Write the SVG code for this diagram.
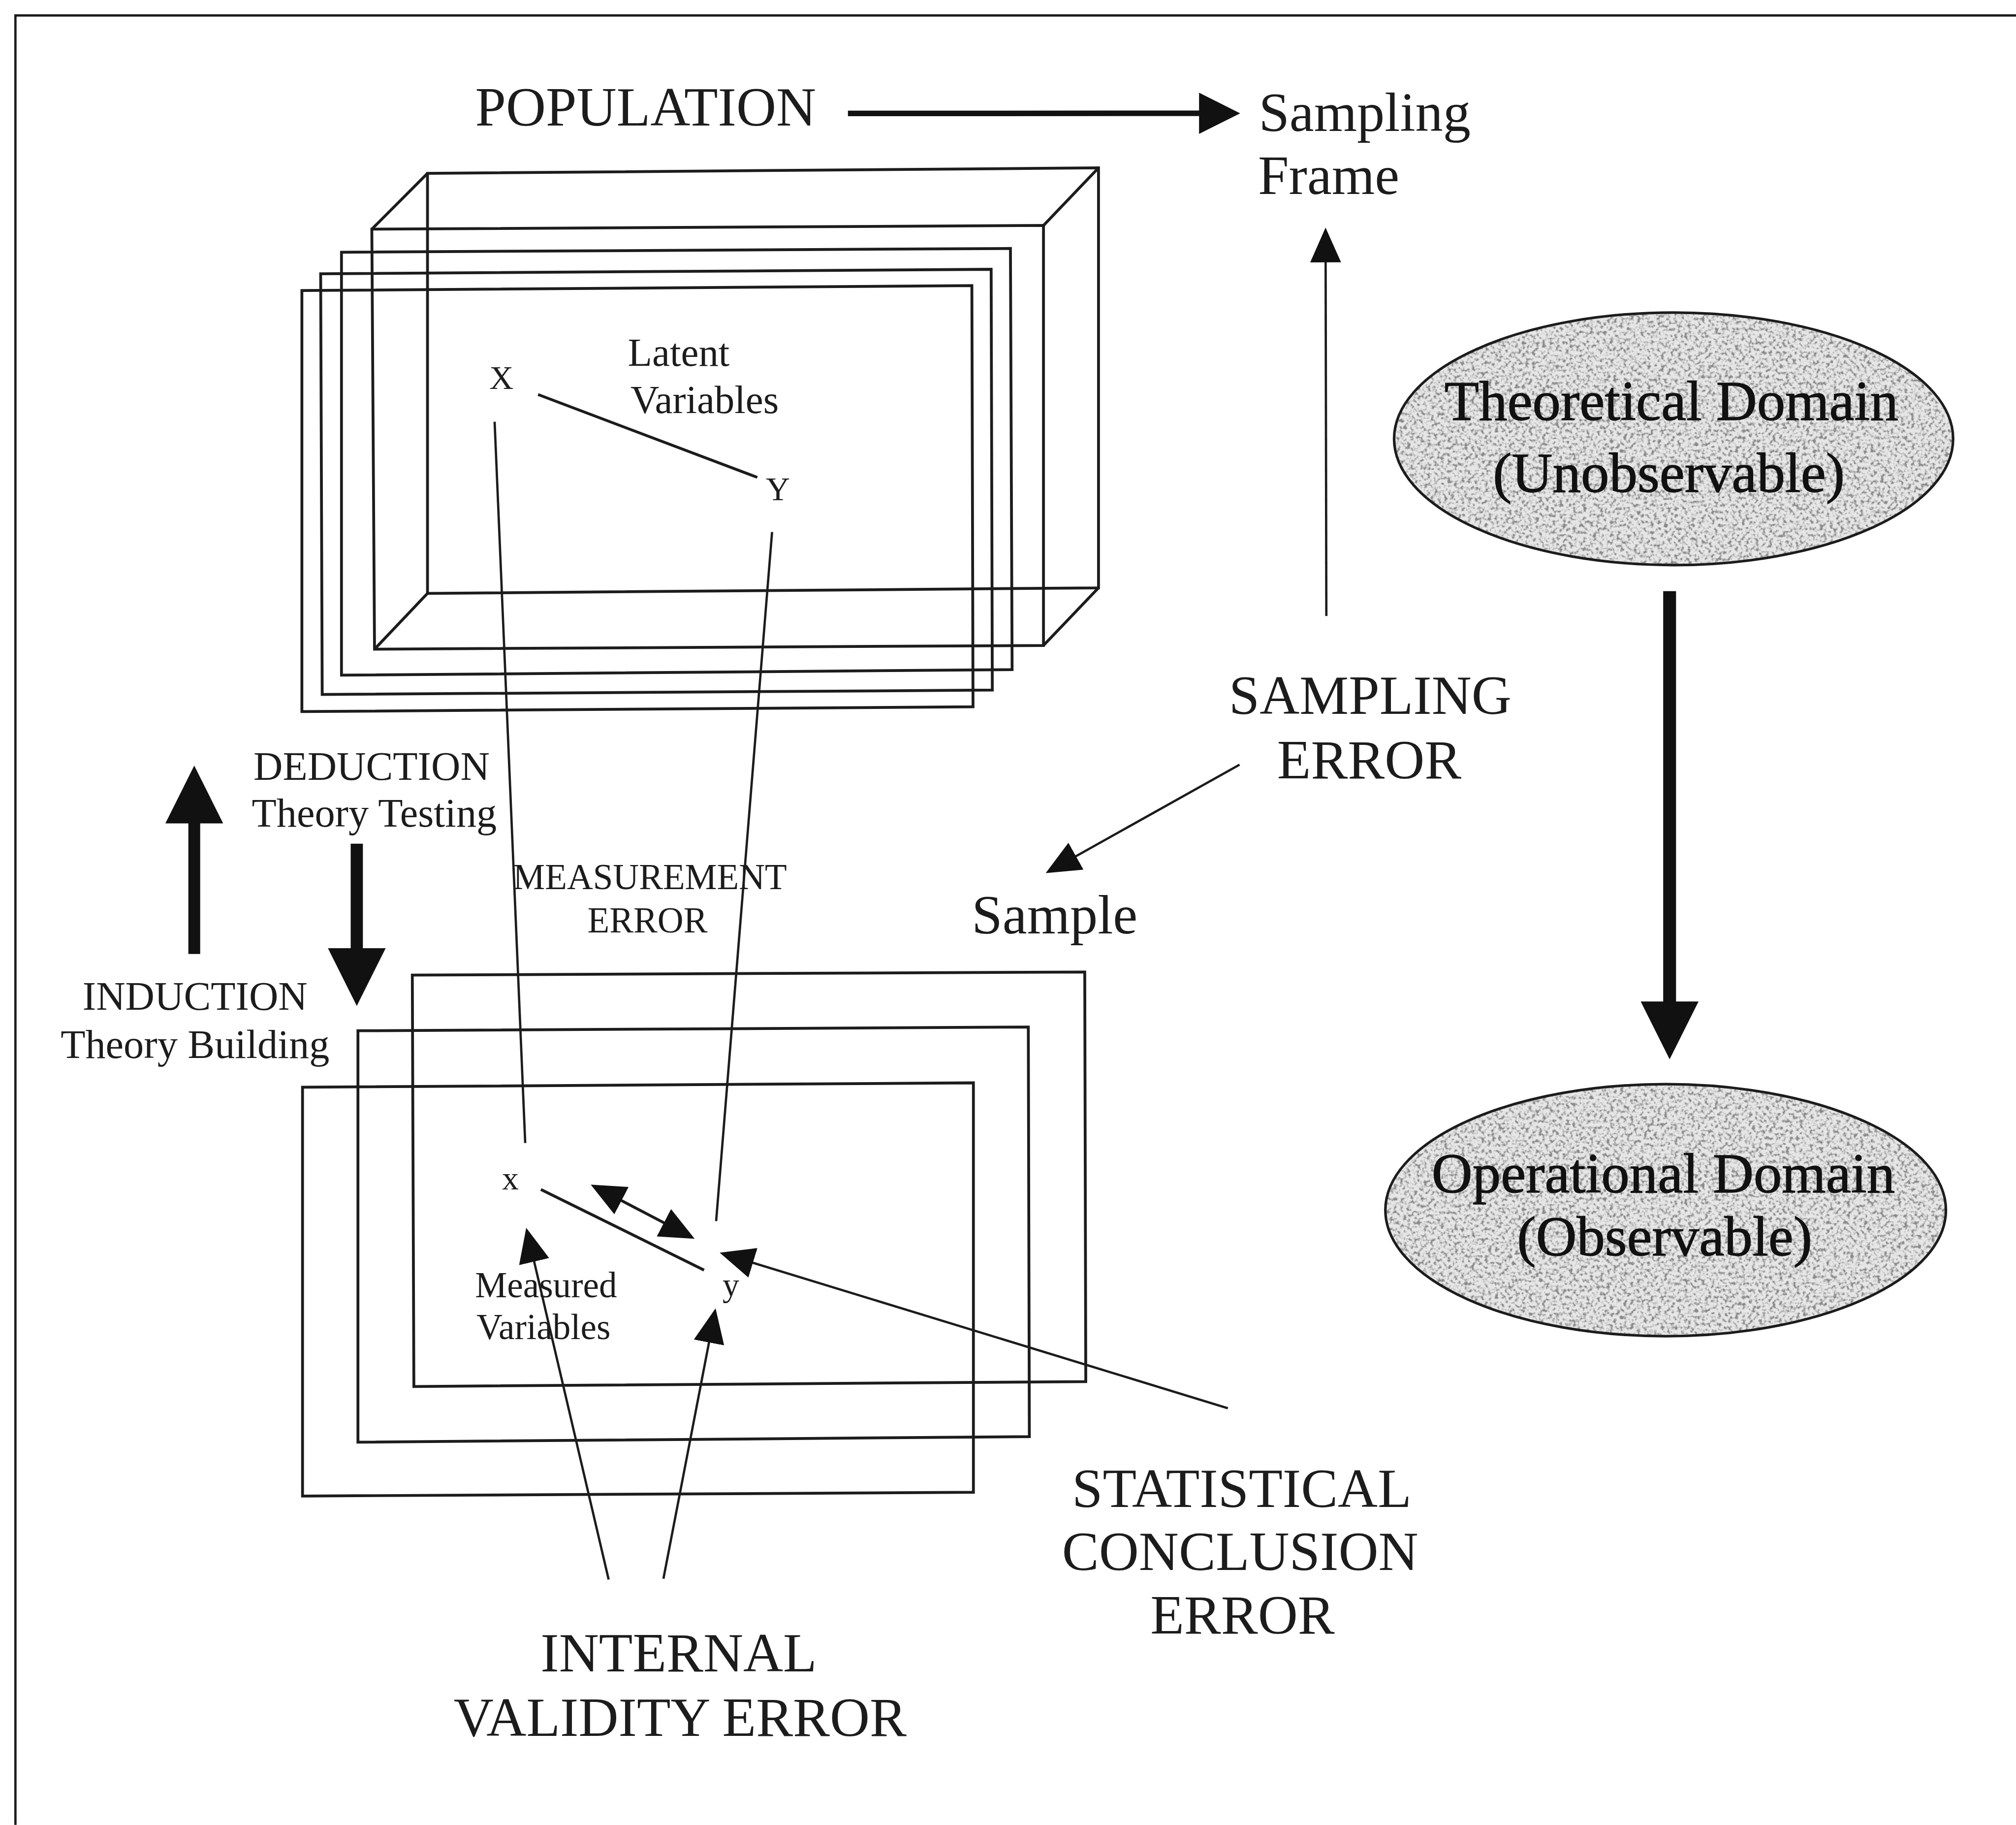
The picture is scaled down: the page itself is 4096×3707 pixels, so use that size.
<svg xmlns="http://www.w3.org/2000/svg" width="4096" height="3707" viewBox="0 0 4096 3707">
  <style>
    .ln { fill: none; stroke: #1c1c1c; stroke-width: 2.2; stroke-linejoin: miter; }
    .th { fill: none; stroke: #1c1c1c; stroke-width: 1.8; }
    .big { fill: none; stroke: #111; }
    .t { font-family: "Liberation Serif", "Times New Roman", serif; fill: #1c1c1c; }
    .dom { font-family: "Liberation Serif", "Times New Roman", serif; fill: #111; stroke: #111; stroke-width: 0.5; }
    .c { text-anchor: middle; }
    .head { fill: #111; }
  </style>
  <defs>
    <!-- thin arrowhead: tip lies 4 units past the line end -->
    <marker id="ah" viewBox="0 0 27 24" refX="23" refY="12" markerWidth="27" markerHeight="24" markerUnits="userSpaceOnUse" orient="auto-start-reverse">
      <path class="head" d="M0,0 L27,12 L0,24 z"/>
    </marker>
    <!-- heavier head for the population arrow -->
    <marker id="ahPop" viewBox="0 0 32 32" refX="26" refY="16" markerWidth="32" markerHeight="32" markerUnits="userSpaceOnUse" orient="auto">
      <path class="head" d="M0,0 L32,16 L0,32 z"/>
    </marker>
    <!-- bold block arrowhead -->
    <marker id="ahBig" viewBox="0 0 45 45" refX="34" refY="22.5" markerWidth="45" markerHeight="45" markerUnits="userSpaceOnUse" orient="auto">
      <path class="head" d="M0,0 L45,22.5 L0,45 z"/>
    </marker>
    <!-- speckled grey fill for the domain ellipses -->
    <filter id="grain" x="-5%" y="-5%" width="110%" height="110%">
      <feTurbulence type="fractalNoise" baseFrequency="0.38" numOctaves="2" seed="7" result="noise"/>
      <feColorMatrix in="noise" type="matrix" values="0 0 0 0 0.25  0 0 0 0 0.25  0 0 0 0 0.25  4 0 0 0 -1.85" result="speck"/>
      <feComposite in="speck" in2="SourceAlpha" operator="in" result="speckIn"/>
      <feMerge><feMergeNode in="SourceGraphic"/><feMergeNode in="speckIn"/></feMerge>
    </filter>
  </defs>

  <rect x="0" y="0" width="4096" height="3707" fill="#ffffff"/>

  <g transform="scale(2.61224)">
    <!-- page frame -->
    <g id="frame">
      <path class="th" d="M12,1419 L12,12 L1568,12" stroke-width="1.6"/>
    </g>

    <!-- population: stacked planes with a 3D box -->
    <g id="population-stack">
      <polygon class="ln" points="332.5,134.8 854.4,130.5 854.4,457.1 332.5,461.4"/>
      <polygon class="ln" points="289.2,178.2 811.6,175.3 811.6,501.9 291.3,504.8"/>
      <path class="ln" d="M289.2,178.2 L332.5,134.8 M811.6,175.3 L854.4,130.5 M291.3,504.8 L332.5,461.4 M811.6,501.9 L854.4,457.1"/>
      <polygon class="ln" points="265.6,196.1 785.9,193.2 787.2,520.7 265.6,525"/>
      <polygon class="ln" points="249.4,212.9 770.9,209.4 771.8,536.6 250.6,540"/>
      <polygon class="ln" points="234.8,225.9 755.9,222.1 756.8,549.6 234.8,553.3"/>
    </g>

    <g id="latent-X"><text class="t c" x="390" y="302.5" font-size="26">X</text></g>
    <g id="latent-Y"><text class="t c" x="605" y="389" font-size="26">Y</text></g>
    <g id="latent-label">
      <text class="t" x="488.3" y="284.5" font-size="31">Latent</text>
      <text class="t" x="490.4" y="321.2" font-size="31">Variables</text>
    </g>

    <!-- sample: stacked planes -->
    <g id="sample-stack">
      <polygon class="ln" points="320.7,758.2 843.7,755.8 844.5,1074.3 321.9,1078.1"/>
      <polygon class="ln" points="278.4,801.5 799.8,798.6 800.6,1117.1 278.4,1121.4"/>
      <polygon class="ln" points="235.3,845.4 757.1,842 757.1,1160.4 235.3,1163.3"/>
    </g>

    <g id="measured-x"><text class="t c" x="397" y="925" font-size="26">x</text></g>
    <g id="measured-y"><text class="t c" x="568.5" y="1008" font-size="26">y</text></g>
    <g id="measured-label">
      <text class="t" x="369.5" y="1008.7" font-size="28">Measured</text>
      <text class="t" x="370.7" y="1041.4" font-size="28">Variables</text>
    </g>

    <g id="population"><text class="t c" x="502.2" y="97.5" font-size="43">POPULATION</text></g>
    <g id="sampling-frame">
      <text class="t" x="979" y="101.8" font-size="43">Sampling</text>
      <text class="t" x="978.5" y="151" font-size="43">Frame</text>
    </g>
    <g id="sampling-error">
      <text class="t c" x="1065.7" y="555" font-size="43">SAMPLING</text>
      <text class="t c" x="1065" y="605.4" font-size="43">ERROR</text>
    </g>
    <g id="sample"><text class="t" x="755.8" y="726" font-size="43">Sample</text></g>

    <g id="deduction">
      <text class="t c" x="289" y="606.3" font-size="31.5">DEDUCTION</text>
      <text class="t c" x="291.1" y="642.9" font-size="31.5">Theory Testing</text>
    </g>
    <g id="induction">
      <text class="t c" x="151.7" y="785.1" font-size="31.5">INDUCTION</text>
      <text class="t c" x="151.7" y="822.7" font-size="31.5">Theory Building</text>
    </g>

    <g id="measurement-error">
      <text class="t c" x="505.5" y="691.5" font-size="28">MEASUREMENT</text>
      <text class="t c" x="503.6" y="725" font-size="28">ERROR</text>
    </g>
    <g id="statistical-conclusion-error">
      <text class="t c" x="965.8" y="1171.9" font-size="43">STATISTICAL</text>
      <text class="t c" x="964.6" y="1220.8" font-size="43">CONCLUSION</text>
      <text class="t c" x="966.4" y="1270.2" font-size="43">ERROR</text>
    </g>
    <g id="internal-validity-error">
      <text class="t c" x="527.9" y="1299.5" font-size="43">INTERNAL</text>
      <text class="t c" x="529" y="1349.7" font-size="43">VALIDITY ERROR</text>
    </g>

    <g id="theoretical-domain">
      <ellipse cx="1301.7" cy="341.2" rx="217.4" ry="98.2" fill="#e6e6e6" filter="url(#grain)"/>
      <ellipse cx="1301.7" cy="341.2" rx="217.4" ry="98.2" fill="none" stroke="#1c1c1c" stroke-width="2"/>
      <text class="dom c" x="1300" y="326.5" font-size="44">Theoretical Domain</text>
      <text class="dom c" x="1298" y="382.5" font-size="44">(Unobservable)</text>
    </g>
    <g id="operational-domain">
      <ellipse cx="1295.5" cy="941" rx="218" ry="98" fill="#e6e6e6" filter="url(#grain)"/>
      <ellipse cx="1295.5" cy="941" rx="218" ry="98" fill="none" stroke="#1c1c1c" stroke-width="2"/>
      <text class="dom c" x="1293.7" y="927" font-size="44">Operational Domain</text>
      <text class="dom c" x="1294.7" y="976" font-size="44">(Observable)</text>
    </g>

    <g id="connectors">
      <!-- latent and measured relations -->
      <path class="ln" d="M418.5,306.8 L589,371.2"/>
      <path class="th" d="M384.7,327.9 L408.5,888.8"/>
      <path class="th" d="M600.5,413.7 L557,949.5"/>
      <path class="ln" d="M420.7,924.9 L547.6,987.6"/>
      <path class="ln" d="M463,922.95 L536.75,961.45" marker-start="url(#ah)" marker-end="url(#ah)"/>

      <!-- population to sampling frame -->
      <path fill="none" stroke="#111" stroke-width="4.3" d="M659.5,88.2 L958.6,88.1" marker-end="url(#ahPop)"/>
      <!-- sampling error arrows -->
      <path class="th" d="M1031.6,479 L1031,181" marker-end="url(#ah)"/>
      <path class="th" d="M964.1,594.6 L816.8,677" marker-end="url(#ah)"/>
      <!-- statistical conclusion error -->
      <path class="th" d="M955,1095 L563.6,975.2" marker-end="url(#ah)"/>
      <!-- internal validity error -->
      <path class="th" d="M473.4,1228.2 L410.2,958.6" marker-end="url(#ah)"/>
      <path class="th" d="M516,1227.6 L555.8,1021.3" marker-end="url(#ah)"/>

      <!-- deduction / induction -->
      <path class="big" stroke-width="9.2" d="M151.1,741.8 L151.1,606.3" marker-end="url(#ahBig)"/>
      <path class="big" stroke-width="9.5" d="M277.5,656 L277.5,771.2" marker-end="url(#ahBig)"/>
      <!-- theoretical to operational -->
      <path class="big" stroke-width="10" d="M1298.6,459.7 L1298.6,812.7" marker-end="url(#ahBig)"/>
    </g>
  </g>
</svg>
